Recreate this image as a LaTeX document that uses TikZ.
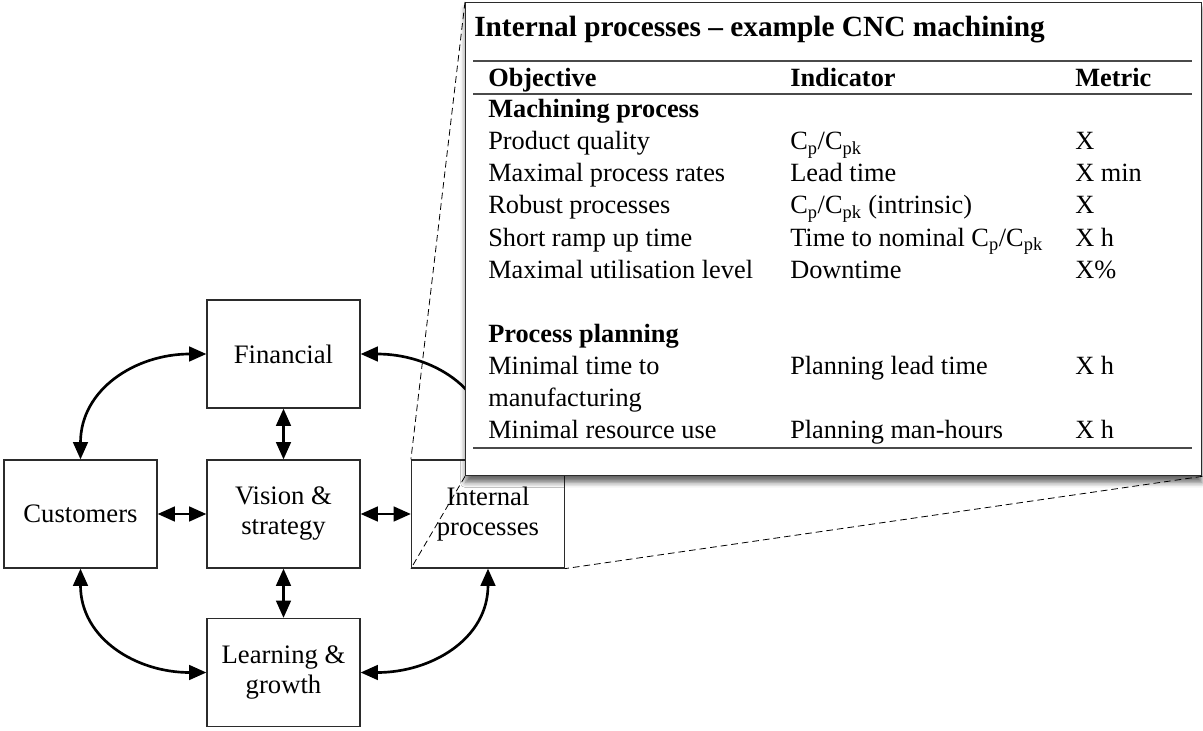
\documentclass[tikz,border=0pt]{standalone}
\usepackage{fontspec}
\setmainfont{Liberation Serif}
\usetikzlibrary{arrows.meta,positioning,shadows.blur}
\definecolor{bscFrame}{HTML}{2B2B2B}
\definecolor{bscRule} {HTML}{4A4A4A}

\newcommand{\cpcpk}{C\textsubscript{p}/C\textsubscript{pk}}

\tikzset{
  persp/.style={draw=bscFrame,line width=0.9pt,fill=white,
    minimum width=114.75pt,minimum height=81pt,inner sep=2pt,
    align=center,font=\fontsize{20}{22.5}\selectfont},
  link/.style={<->,line width=2pt},
  zoomline/.style={line width=0.6pt,dash pattern=on 5pt off 3pt},
  tabrule/.style={draw=bscRule,line width=1pt},
  tabcell/.style={anchor=base west,inner sep=0pt,font=\fontsize{19.75}{24}\selectfont},
  tabhead/.style={tabcell,font=\fontsize{19.75}{24}\selectfont\bfseries},
}

\begin{document}
\begin{tikzpicture}[x=0.75pt,y=-0.75pt,>={Triangle[length=13pt,width=11pt]}]
  \useasboundingbox (0,0) rectangle (1203,731);

  % balanced scorecard round the vision
  \node[persp] (fin) at (283.5,354)   {Financial};
  \node[persp] (vis) at (283.5,514)   {Vision \&\\strategy};
  \node[persp] (cus) at (80.5,514)    {Customers};
  \node[persp] (int) at (488,514)     {Internal\\processes};
  \node[persp] (lrn) at (283.5,672.5) {Learning \&\\growth};

  \draw[link] (fin) -- (vis);
  \draw[link] (vis) -- (lrn);
  \draw[link] (cus) -- (vis);
  \draw[link] (vis) -- (int);
  \draw[link] (fin.west)  to[out=180,in=90,looseness=1.1]  (cus.north);
  \draw[link] (fin.east)  to[out=0,in=90,looseness=1.1]    (int.north);
  \draw[link] (cus.south) to[out=-90,in=180,looseness=1.1] (lrn.west);
  \draw[link] (int.south) to[out=-90,in=0,looseness=1.1]   (lrn.east);

  % zoomed table
  \node[draw=bscFrame,line width=1pt,fill=white,anchor=north west,
    minimum width=552pt,minimum height=354.75pt,inner sep=0pt,
    blur shadow={shadow xshift=0pt,shadow yshift=-5pt,
      shadow blur radius=4pt,shadow opacity=60}] (tab) at (465,2) {};

  \draw[zoomline] (tab.north west) -- (int.north west);
  \draw[zoomline] (tab.south west) -- (int.south west);
  \draw[zoomline] (tab.south east) -- (int.south east);

  \node[tabcell,font=\fontsize{22}{26}\selectfont\bfseries] (ttl) at (474,37)
    {Internal processes – example CNC machining};
  \draw[tabrule] (473,61) -- (1192,61);
  \node[tabhead] (hobj) at (488,87)  {Objective};
  \node[tabhead] (hind) at (790,87)  {Indicator};
  \node[tabhead] (hmet) at (1075,87) {Metric};
  \draw[tabrule] (473,94) -- (1192,94);

  \node[tabhead] (grpa) at (488,118) {Machining process};
  \node[tabcell] (oa1) at (488,150)  {Product quality};
  \node[tabcell] (ia1) at (790,150)  {\cpcpk};
  \node[tabcell] (ma1) at (1075,150) {X};
  \node[tabcell] (oa2) at (488,182)  {Maximal process rates};
  \node[tabcell] (ia2) at (790,182)  {Lead time};
  \node[tabcell] (ma2) at (1075,182) {X min};
  \node[tabcell] (oa3) at (488,214)  {Robust processes};
  \node[tabcell] (ia3) at (790,214)  {\cpcpk{} (intrinsic)};
  \node[tabcell] (ma3) at (1075,214) {X};
  \node[tabcell] (oa4) at (488,246)  {Short ramp up time};
  \node[tabcell] (ia4) at (790,246)  {Time to nominal \cpcpk};
  \node[tabcell] (ma4) at (1075,246) {X h};
  \node[tabcell] (oa5) at (488,278)  {Maximal utilisation level};
  \node[tabcell] (ia5) at (790,278)  {Downtime};
  \node[tabcell] (ma5) at (1075,278) {X\%};

  \node[tabhead] (grpb) at (488,342) {Process planning};
  \node[tabcell] (ob1) at (488,374)  {Minimal time to};
  \node[tabcell] (ob1b) at (488,406) {manufacturing};
  \node[tabcell] (ib1) at (790,374)  {Planning lead time};
  \node[tabcell] (mb1) at (1075,374) {X h};
  \node[tabcell] (ob2) at (488,438)  {Minimal resource use};
  \node[tabcell] (ib2) at (790,438)  {Planning man-hours};
  \node[tabcell] (mb2) at (1075,438) {X h};
  \draw[tabrule] (473,448) -- (1192,448);
\end{tikzpicture}
\end{document}
